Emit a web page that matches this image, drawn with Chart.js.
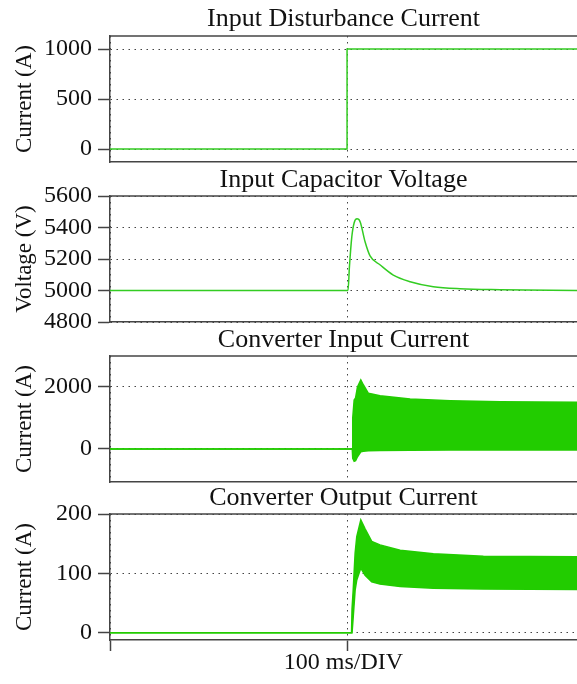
<!DOCTYPE html>
<html>
<head>
<meta charset="utf-8">
<script src="https://cdn.jsdelivr.net/npm/chart.js@4"></script>
<style>
  body { margin: 0; background: #fff; }
  #wrap { position: relative; width: 577px; height: 684px; overflow: hidden; }
  canvas { position: absolute; left: 0; }
</style>
</head>
<body>
<div id="wrap">
  <canvas id="c1" width="577" height="180" style="top:0px"></canvas>
  <canvas id="c2" width="577" height="178" style="top:162px"></canvas>
  <canvas id="c3" width="577" height="178" style="top:322px"></canvas>
  <canvas id="c4" width="577" height="204" style="top:480px"></canvas>
</div>
<script>
const FONT = "'Liberation Serif', 'Times New Roman', serif";
const GREEN = '#22cc00';
const LINE = '#33cc22';
const AXIS = '#444';

// time axis (ms), one division = 100 ms
const xTicks = [0, 100];
const xMax = 197;

// Input Disturbance Current
const t1 = [0, 100, 100, 197];
const disturbance = [0, 0, 1000, 1000];
const ticks1 = [0, 500, 1000];

// Input Capacitor Voltage
const t2 = [0, 100.4, 101, 102, 103, 104.2, 105.5, 107.6, 109.7, 114, 119.5, 126.6, 136.4, 147.7, 164.6, 197];
const voltage = [5000, 5000, 5150, 5340, 5430, 5455, 5437, 5310, 5220, 5162, 5098, 5056, 5024, 5011, 5005, 5000];
const ticks2 = [4800, 5000, 5200, 5400, 5600];

// Converter Input Current (envelope of the ripple)
const t3 = [0, 102.2, 102.4, 103.0, 103.6, 104.4, 105.8, 106.9, 109, 113.9, 126.6, 143.5, 164.6, 197];
const inUpper = [0, 0, 1000, 1580, 1650, 2000, 2225, 2065, 1796, 1720, 1613, 1560, 1526, 1506];
const inLower = [0, 0, -300, -400, -380, -250, -90, -70, -60, -50, -40, -35, -30, -30];
const ticks3 = [0, 2000];

// Converter Output Current (envelope of the ripple)
const t4 = [0, 101.9, 102.1, 102.6, 103.4, 104.1, 105.8, 107.6, 110.4, 113.9, 122.4, 136.4, 157.5, 197];
const outUpper = [0, 0, 40, 72, 134, 162, 190, 175, 154, 148, 139, 133, 129, 128];
const outLower = [0, 0, 0, 27, 72, 89, 109, 97, 86, 82, 78, 75, 74, 73];
const ticks4 = [0, 100, 200];

const xy = (t, v) => t.map((x, i) => ({ x: x, y: v[i] }));

// top edge of the plot box
const frame = {
  id: 'frame',
  afterDraw(chart) {
    const { ctx, chartArea: a } = chart;
    ctx.save();
    ctx.strokeStyle = AXIS;
    ctx.lineWidth = 1.5;
    ctx.beginPath();
    ctx.moveTo(a.left, a.top);
    ctx.lineTo(a.right + 2, a.top);
    ctx.stroke();
    ctx.restore();
  }
};

function makeChart(id, o) {
  return new Chart(document.getElementById(id), {
    type: 'line',
    data: { datasets: o.datasets },
    options: {
      responsive: false,
      animation: false,
      layout: { padding: { top: 0, right: 0, left: 0, bottom: o.padBottom } },
      plugins: {
        legend: { display: false },
        tooltip: { enabled: false },
        title: {
          display: true, text: o.title, color: '#111', fullSize: false,
          font: { family: FONT, size: 26, weight: 'normal', lineHeight: 1 },
          padding: o.titlePad
        }
      },
      elements: { point: { radius: 0 }, line: { tension: 0 } },
      scales: {
        x: {
          type: 'linear', min: 0, max: xMax,
          afterBuildTicks: s => { s.ticks = xTicks.map(v => ({ value: v })); },
          ticks: { display: false },
          grid: { color: AXIS, lineWidth: 1, drawTicks: !!o.xTitle, tickLength: 11, tickColor: AXIS, tickWidth: 1.5, tickBorderDash: [] },
          border: { display: true, color: AXIS, width: 1.5, dash: [1.5, 4.5] },
          title: o.xTitle ? {
            display: true, text: o.xTitle, color: '#111',
            font: { family: FONT, size: 24, lineHeight: 1 },
            padding: { top: 0, bottom: 9 }
          } : { display: false }
        },
        y: {
          min: o.yMin, max: o.yMax,
          afterBuildTicks: s => { s.ticks = o.yTicks.map(v => ({ value: v })); },
          afterFit: s => { s.width = 110; s.paddingTop = 0; s.paddingBottom = 0; },
          ticks: { color: '#111', font: { family: FONT, size: 24 }, padding: 6, autoSkip: false, callback: v => String(v) },
          grid: { color: AXIS, lineWidth: 1, tickLength: 12, tickColor: AXIS, tickWidth: 1.5, tickBorderDash: [] },
          border: { display: true, color: AXIS, width: 1.5, dash: [1.5, 4.5] },
          title: {
            display: true, text: o.yTitle, color: '#111',
            font: { family: FONT, size: 23, lineHeight: 1 },
            padding: { top: 13.5, bottom: 0 }
          }
        }
      }
    },
    plugins: [frame]
  });
}

makeChart('c1', {
  title: 'Input Disturbance Current',
  titlePad: { top: 6, bottom: 4 },
  padBottom: 18,
  yMin: -130, yMax: 1130, yTicks: ticks1, yTitle: 'Current (A)',
  datasets: [{ data: xy(t1, disturbance), borderColor: LINE, borderWidth: 1.5, fill: false }]
});

makeChart('c2', {
  title: 'Input Capacitor Voltage',
  titlePad: { top: 5, bottom: 3 },
  padBottom: 18,
  yMin: 4800, yMax: 5600, yTicks: ticks2, yTitle: 'Voltage (V)',
  datasets: [{ data: xy(t2, voltage), borderColor: LINE, borderWidth: 1.5, fill: false, cubicInterpolationMode: 'monotone' }]
});

makeChart('c3', {
  title: 'Converter Input Current',
  titlePad: { top: 5, bottom: 3 },
  padBottom: 18,
  yMin: -1065, yMax: 3000, yTicks: ticks3, yTitle: 'Current (A)',
  datasets: [
    { data: xy(t3, inUpper), borderColor: GREEN, backgroundColor: GREEN, borderWidth: 1.5, fill: '+1' },
    { data: xy(t3, inLower), borderColor: GREEN, borderWidth: 1.5, fill: false }
  ]
});

makeChart('c4', {
  title: 'Converter Output Current',
  titlePad: { top: 5, bottom: 3 },
  padBottom: 0,
  xTitle: '100 ms/DIV',
  yMin: -12, yMax: 200, yTicks: ticks4, yTitle: 'Current (A)',
  datasets: [
    { data: xy(t4, outUpper), borderColor: GREEN, backgroundColor: GREEN, borderWidth: 1.5, fill: '+1' },
    { data: xy(t4, outLower), borderColor: GREEN, borderWidth: 1.5, fill: false }
  ]
});
</script>
</body>
</html>
